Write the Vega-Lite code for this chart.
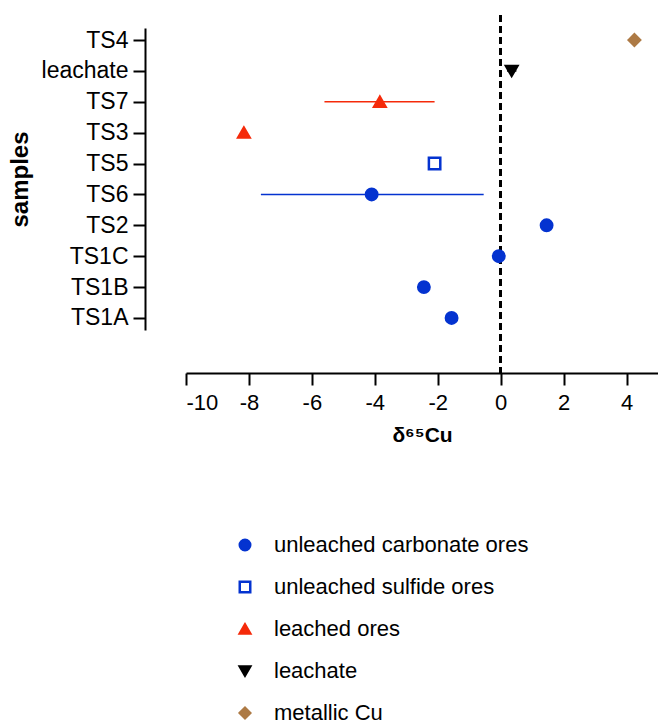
{
  "$schema": "https://vega.github.io/schema/vega-lite/v6.json",
  "autosize": {"type": "none"},
  "padding": {"left": 145, "top": 15, "right": 0, "bottom": 353},
  "width": 513,
  "height": 358,
  "config": {"view": {"stroke": null}, "font": "Liberation Sans"},
  "data": {
    "values": [
      {"sample": "TS4", "type": "metallic Cu", "value": 4.25, "lo": null, "hi": null},
      {"sample": "leachate", "type": "leachate", "value": 0.35, "lo": 0.2, "hi": 0.5},
      {"sample": "TS7", "type": "leached ores", "value": -3.84, "lo": -5.6, "hi": -2.1},
      {"sample": "TS3", "type": "leached ores", "value": -8.16, "lo": null, "hi": null},
      {"sample": "TS5", "type": "unleached sulfide ores", "value": -2.1, "lo": -2.3, "hi": -1.9},
      {"sample": "TS6", "type": "unleached carbonate ores", "value": -4.1, "lo": -7.62, "hi": -0.54},
      {"sample": "TS2", "type": "unleached carbonate ores", "value": 1.46, "lo": null, "hi": null},
      {"sample": "TS1C", "type": "unleached carbonate ores", "value": -0.06, "lo": null, "hi": null},
      {"sample": "TS1B", "type": "unleached carbonate ores", "value": -2.44, "lo": null, "hi": null},
      {"sample": "TS1A", "type": "unleached carbonate ores", "value": -1.56, "lo": null, "hi": null}
    ]
  },
  "encoding": {
    "y": {
      "field": "sample", "type": "nominal",
      "sort": ["TS4", "leachate", "TS7", "TS3", "TS5", "TS6", "TS2", "TS1C", "TS1B", "TS1A"],
      "scale": {"type": "point", "range": [13, 315], "padding": 0.39},
      "axis": {
        "grid": false,
        "domainColor": "black", "domainWidth": 2,
        "tickColor": "black", "tickWidth": 2, "tickSize": 12,
        "labelColor": "black", "labelFontSize": 23, "labelPadding": 5,
        "title": "samples", "titleFontSize": 24, "titleFontWeight": "bold", "titleColor": "black", "titlePadding": 9
      }
    }
  },
  "layer": [
    {
      "mark": {"type": "rule", "strokeDash": [7, 4], "strokeWidth": 2.5, "color": "black"},
      "encoding": {"x": {"datum": 0, "type": "quantitative"}, "y": null}
    },
    {
      "transform": [{"filter": "datum.lo != null"}],
      "mark": {"type": "rule", "strokeWidth": 1.5},
      "encoding": {
        "x": {"field": "lo", "type": "quantitative"},
        "x2": {"field": "hi"},
        "color": {
          "field": "type", "type": "nominal", "legend": null,
          "scale": {
            "domain": ["unleached carbonate ores", "unleached sulfide ores", "leached ores", "leachate", "metallic Cu"],
            "range": ["#0433d0", "#0433d0", "#f52a0a", "#000000", "#ad7a45"]
          }
        }
      }
    },
    {
      "mark": {"type": "point", "strokeWidth": 2.5, "size": 130, "opacity": 1},
      "encoding": {
        "x": {
          "field": "value", "type": "quantitative",
          "scale": {"domain": [-10, 5], "range": [41, 513], "nice": false, "zero": false},
          "axis": {
            "values": [-10, -9, -8, -7, -6, -5, -4, -3, -2, -1, 0, 1, 2, 3, 4, 5],
            "labelExpr": "datum.value % 2 === 0 && datum.value < 5 ? '' + datum.value : ''",
            "grid": false,
            "domainColor": "black", "domainWidth": 2,
            "tickColor": "black", "tickWidth": 2, "tickSize": 12,
            "labelColor": "black", "labelFontSize": 22, "labelPadding": 7,
            "title": "δ⁶⁵Cu", "titleFontSize": 21, "titleFontWeight": "bold", "titleColor": "black", "titlePadding": 11,
            "encode": {"ticks": {"update": {"y2": {"signal": "datum.value % 2 === 0 ? 12 : 6"}}}}
          }
        },
        "shape": {
          "field": "type", "type": "nominal",
          "scale": {
            "domain": ["unleached carbonate ores", "unleached sulfide ores", "leached ores", "leachate", "metallic Cu"],
            "range": ["circle", "square", "triangle-up", "triangle-down", "diamond"]
          },
          "legend": {
            "title": null, "orient": "none", "legendX": 89, "legendY": 519,
            "labelFontSize": 22, "labelColor": "black", "labelOffset": 18, "labelLimit": 400,
            "rowPadding": 20, "symbolSize": 110, "symbolStrokeWidth": 2.5, "padding": 0
          }
        },
        "fill": {
          "field": "type", "type": "nominal",
          "scale": {
            "domain": ["unleached carbonate ores", "unleached sulfide ores", "leached ores", "leachate", "metallic Cu"],
            "range": ["#0433d0", "#ffffff", "#f52a0a", "#000000", "#ad7a45"]
          }
        },
        "stroke": {
          "field": "type", "type": "nominal",
          "scale": {
            "domain": ["unleached carbonate ores", "unleached sulfide ores", "leached ores", "leachate", "metallic Cu"],
            "range": ["#0433d0", "#0433d0", "#f52a0a", "#000000", "#ad7a45"]
          }
        }
      }
    }
  ],
  "resolve": {"scale": {"color": "independent"}}
}
